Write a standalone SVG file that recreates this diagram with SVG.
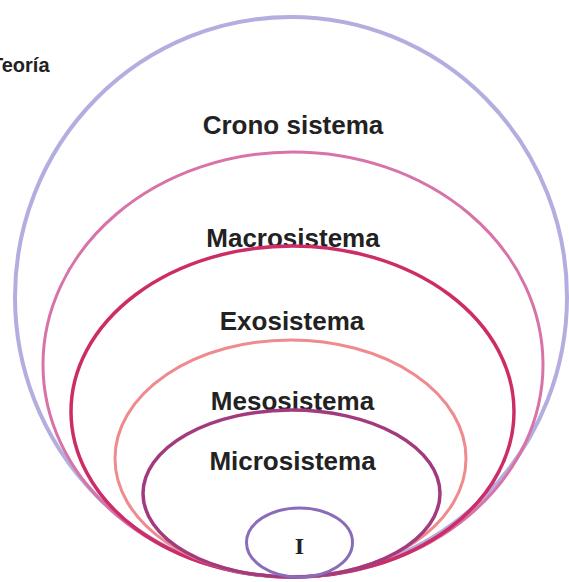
<svg xmlns="http://www.w3.org/2000/svg" width="569" height="582" viewBox="0 0 569 582">
  <style>
    .ring { fill: none; }
    .lbl { font-family: "Liberation Sans", Arial, sans-serif; font-weight: bold; font-size: 26px; fill: #222; text-anchor: middle; }
    .title { font-family: "Liberation Sans", Arial, sans-serif; font-weight: bold; font-size: 20px; fill: #222; }
    .core { font-family: "Liberation Serif", "Times New Roman", serif; font-weight: bold; font-size: 24px; fill: #222; text-anchor: middle; }
  </style>
  <rect width="569" height="582" fill="#ffffff"/>
  <g id="title">
    <text class="title" x="-9" y="72">Teoría</text>
  </g>
  <g id="cronosistema">
    <ellipse class="ring" cx="291" cy="297" rx="276" ry="280" stroke="#b3aee0" stroke-width="4"/>
    <text class="lbl" x="293" y="134">Crono sistema</text>
  </g>
  <g id="macrosistema">
    <ellipse class="ring" cx="293" cy="364.5" rx="250" ry="212.5" stroke="#d873a8" stroke-width="3"/>
    <text class="lbl" x="293" y="247">Macrosistema</text>
  </g>
  <g id="exosistema">
    <ellipse class="ring" cx="292.5" cy="411.5" rx="221.5" ry="165.5" stroke="#cc2d66" stroke-width="3.5"/>
    <text class="lbl" x="292" y="330">Exosistema</text>
  </g>
  <g id="mesosistema">
    <ellipse class="ring" cx="290.5" cy="458.5" rx="175.5" ry="118.5" stroke="#ef8a8e" stroke-width="3"/>
    <text class="lbl" x="292.5" y="410">Mesosistema</text>
  </g>
  <g id="microsistema">
    <ellipse class="ring" cx="291.5" cy="493.5" rx="148.5" ry="83.5" stroke="#a23a7e" stroke-width="3.5"/>
    <text class="lbl" x="292.5" y="470">Microsistema</text>
  </g>
  <g id="individuo">
    <ellipse class="ring" cx="299.5" cy="542.5" rx="53" ry="34.5" stroke="#8a6cb8" stroke-width="3"/>
    <text class="core" x="299.5" y="554">I</text>
  </g>
  <g id="connectors"></g>
</svg>
